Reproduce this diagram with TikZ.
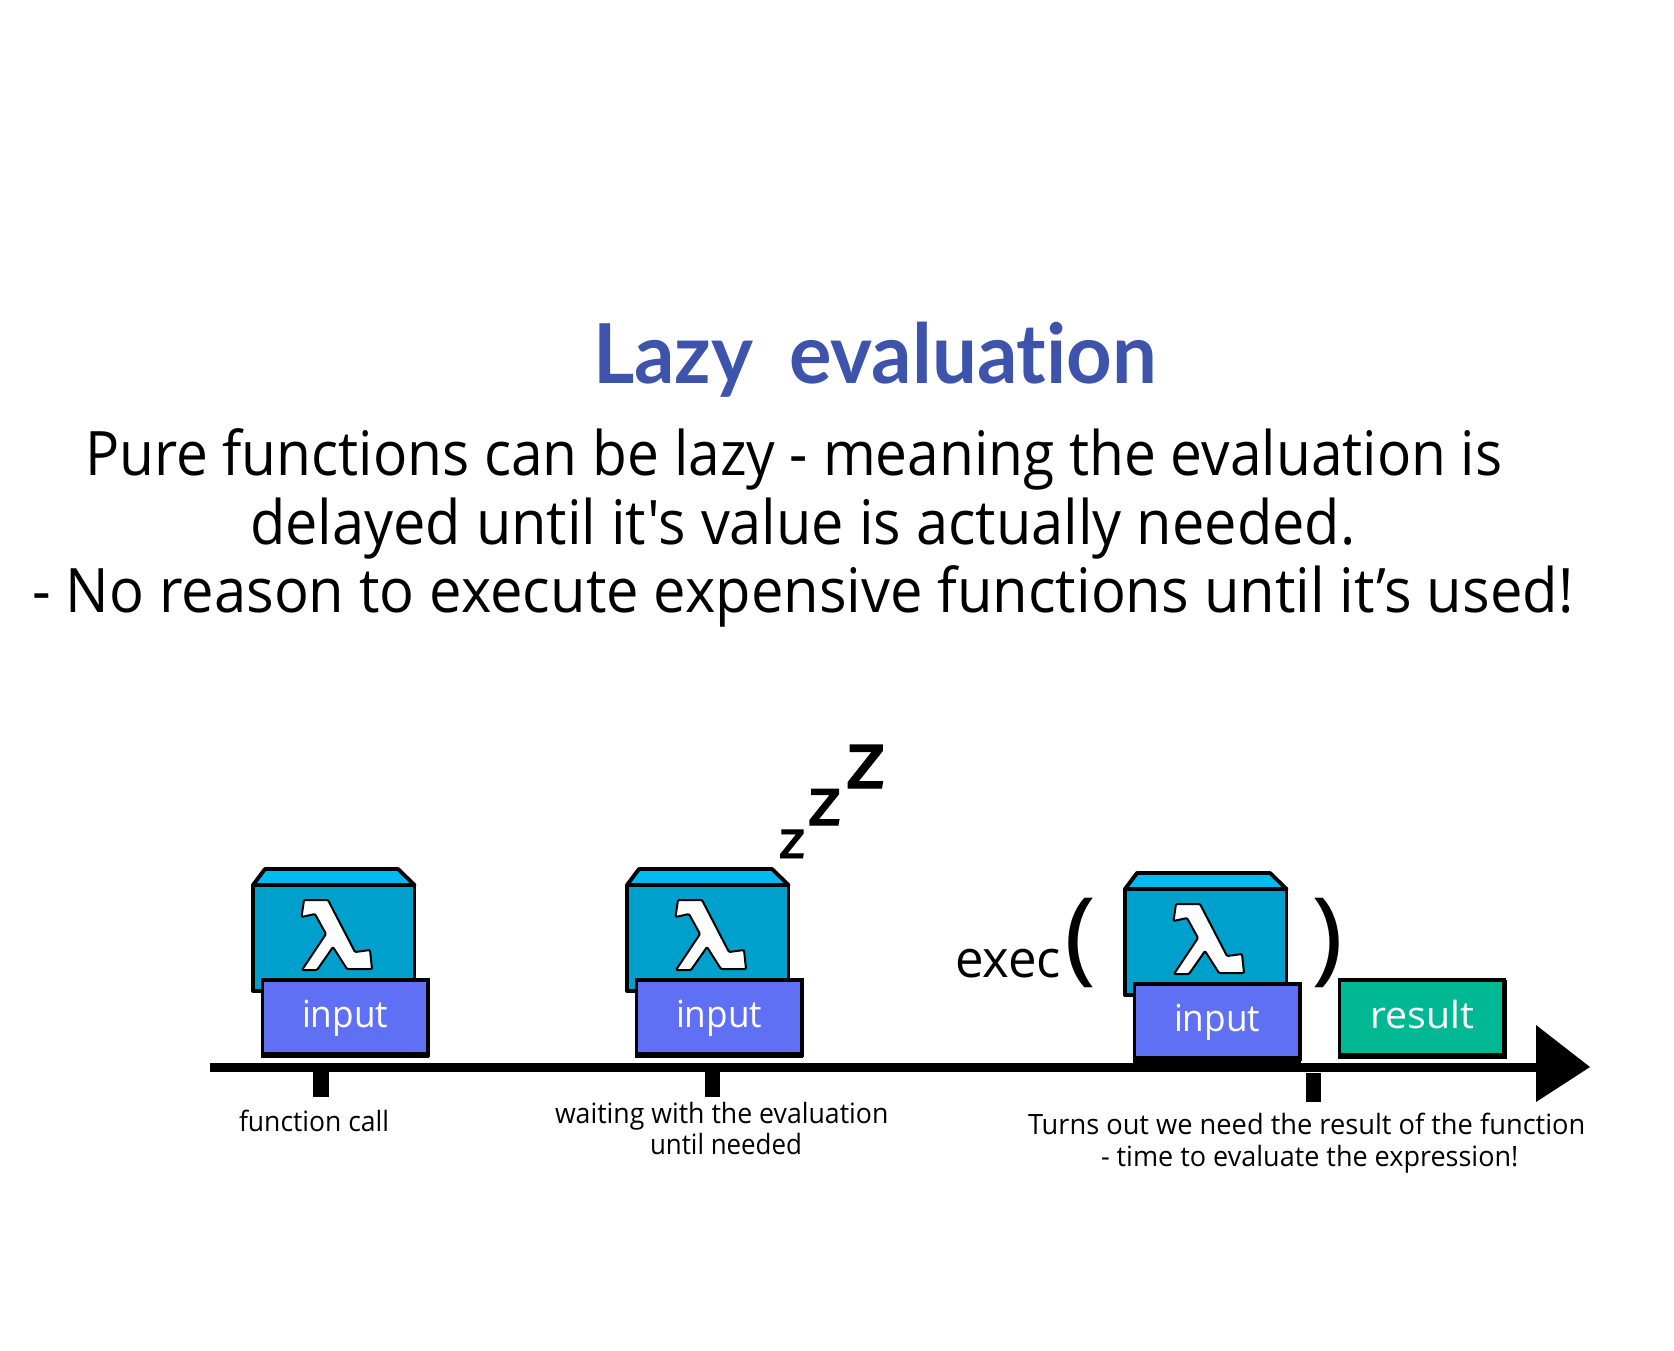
\documentclass[tikz,border=0pt]{standalone}
\usepackage{fontspec}
\usepackage{graphicx}
\usetikzlibrary{arrows.meta}
\setmainfont{Open Sans}
\newfontfamily\plainfont{Open Sans}
\newfontfamily\execfont{Open Sans}
\newfontfamily\titlefont[Ligatures=NoCommon]{Lato}
\newfontfamily\zfont[FakeBold=1.6]{Fira Sans}
\newcommand\fitw[2]{\resizebox{#1pt}{\height}{#2}}
\newcommand\pxfont[1]{\fontsize{#1pt}{#1pt}\selectfont}
\definecolor{boxfront}{RGB}{0,160,204}
\definecolor{boxtop}{RGB}{0,186,242}
\definecolor{inputblue}{RGB}{96,112,245}
\definecolor{resultgreen}{RGB}{0,184,148}
\definecolor{titleblue}{RGB}{62,84,172}
\tikzset{
  x=0.75pt,y=-0.75pt,
  txt/.style={anchor=base west,inner sep=0pt,outer sep=0pt},
  titletext/.style={txt,text=titleblue,font=\titlefont\pxfont{62}\bfseries},
  bodytext/.style={txt,font=\pxfont{46}},
  smalltext/.style={txt,font=\pxfont{21}},
  chip/.style={anchor=north west,draw=black,line width=2.8pt,minimum width=124pt,minimum height=56pt,inner sep=0pt,outer sep=0pt,text=white},
  chiplabel/.style={txt,text=white,font=\pxfont{28}},
  tick/.style={fill=black},
  lambdabox/.pic={
    \path[fill=boxtop,draw=black,line width=2.9pt,line join=round]
      (253,885)--(265,869)--(398,869)--(414.5,885)--cycle;
    \path[fill=boxfront,draw=black,line width=2.9pt,line join=round]
      (253,885) rectangle (414.5,991);
    \path[fill=white,draw=black,line width=1.5pt,line join=round,rounded corners=0.8pt]
      (304,900)--(328,900)--(355,952)--(370,950)--(372,969)--(347,969)--(333,947)--(317,970)--(302,970)--(326,934)--(315,914)--(301.5,917)--cycle;
  }
}
\begin{document}
\begin{tikzpicture}
\useasboundingbox (0,0) rectangle (1674,1350);
% text block
\node[titletext] (title) at (593,383) {\fitw{423}{Lazy\hspace{0.45em}evaluation}};
\node[bodytext] (l1) at (85,475) {\fitw{1063}{Pure functions can be lazy - meaning the evaluation is}};
\node[bodytext] (l2) at (250,544) {\fitw{829}{\plainfont delayed until it's value is actually needed.}};
\node[bodytext] (l3) at (32,612) {\fitw{1156}{- No reason to execute expensive functions until it’s used!}};
% axis
\coordinate (axisstart) at (210,1067.5);
\coordinate (axisend) at (1540,1067.5);
\draw[line width=7pt] (axisstart) -- (axisend);
\fill (1536,1025) -- (1590,1067) -- (1536,1102) -- cycle;
\fill[tick] (313,1072) rectangle (329,1097);
\fill[tick] (705,1072) rectangle (720,1097);
\fill[tick] (1306,1073) rectangle (1321,1102);
% boxes
\pic (boxa) at (0,0) {lambdabox};
\pic (boxb) at (374,0) {lambdabox};
\pic (boxc) at (872,4) {lambdabox};
% inputs
\node[chip,fill=inputblue] (inputa) at (262.5,980) {};
\fill (261,1052) rectangle (429,1058);
\node[chip,fill=inputblue] (inputb) at (636.5,980) {};
\fill (635,1052) rectangle (803,1058);
\node[chip,fill=inputblue] (inputc) at (1134.5,984) {};
\fill (1133,1056) rectangle (1301,1064);
\node[chip,fill=resultgreen,minimum width=123.6pt] (result) at (1339.5,980) {};
\fill (1338,1053) rectangle (1507,1059);
\draw[line width=1.5pt] (1505.5,980) -- (1505.5,1058);
\node[chiplabel] (ia) at (302,1027) {\fitw{64.5}{input}};
\node[chiplabel] (ib) at (676,1027) {\fitw{64.5}{input}};
\node[chiplabel] (ic) at (1174,1031) {\fitw{64.5}{input}};
\node[chiplabel] (res) at (1370,1028) {\fitw{78}{result}};
% exec
\node[txt,font=\execfont\pxfont{39}] (exec) at (955,977) {\fitw{79.5}{exec}};
\node[txt,font=\execfont\pxfont{77}] (po) at (1064,971) {\fitw{24}{(}};
\node[txt,font=\execfont\pxfont{77}] (pc) at (1311,971) {\fitw{24}{)}};
% z z z
\node[txt,font=\zfont\pxfont{40}] (z1) at (779,858) {\fitw{19.5}{z}};
\node[txt,font=\zfont\pxfont{51}] (z2) at (808,825) {\fitw{24.8}{z}};
\node[txt,font=\zfont\pxfont{61}] (z3) at (846,788) {\fitw{29.3}{z}};
% captions
\node[smalltext] (c1) at (239,1131) {\fitw{112.5}{function call}};
\node[smalltext] (c2a) at (555,1123) {\fitw{250}{waiting with the evaluation}};
\node[smalltext] (c2b) at (650,1154) {\fitw{114}{until needed}};
\node[smalltext] (c3a) at (1028,1134) {\fitw{418}{Turns out we need the result of the function}};
\node[smalltext] (c3b) at (1101,1166) {\fitw{313}{- time to evaluate the expression!}};
\end{tikzpicture}
\end{document}
